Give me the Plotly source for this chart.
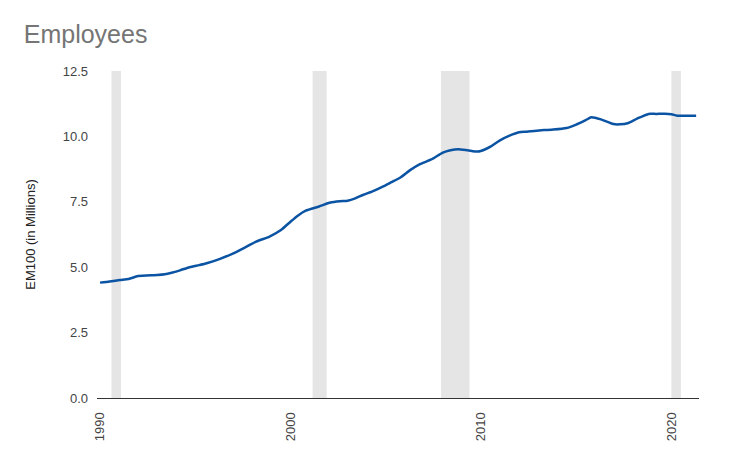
import plotly.graph_objects as go

# employee counts (millions)
years = [1990.0, 1990.5, 1991.05, 1991.5, 1992.0, 1993.0, 1993.4, 1993.76, 1994.2, 1994.7,
         1995.2, 1995.6, 1996.3, 1997.0, 1997.6, 1998.2, 1998.9, 1999.5, 2000.0, 2000.4,
         2000.8, 2001.5, 2002.1, 2002.6, 2003.0, 2003.4, 2003.8, 2004.4, 2004.9, 2005.3,
         2005.75, 2006.3, 2006.8, 2007.4, 2008.0, 2008.4, 2008.8, 2009.3, 2009.85, 2010.2,
         2010.5, 2011.0, 2011.5, 2012.0, 2012.4, 2012.8, 2013.3, 2013.8, 2014.5, 2015.0,
         2015.5, 2015.8, 2016.3, 2016.95, 2017.3, 2017.7, 2018.2, 2018.8, 2019.2, 2019.65,
         2020.0, 2020.3, 2020.8, 2021.3]
employees = [4.41, 4.45, 4.51, 4.55, 4.66, 4.70, 4.73, 4.79, 4.88, 5.00,
             5.08, 5.15, 5.32, 5.53, 5.75, 5.98, 6.17, 6.42, 6.74, 6.98,
             7.16, 7.32, 7.47, 7.52, 7.54, 7.63, 7.76, 7.93, 8.10, 8.25,
             8.42, 8.72, 8.94, 9.12, 9.38, 9.47, 9.51, 9.47, 9.42, 9.50,
             9.61, 9.85, 10.03, 10.16, 10.18, 10.21, 10.24, 10.26, 10.32, 10.45,
             10.62, 10.73, 10.65, 10.47, 10.46, 10.50, 10.68, 10.86, 10.86, 10.87,
             10.85, 10.79, 10.79, 10.79]

# recession periods (start, end)
recession_start = [1990.6, 2001.16, 2007.9, 2020.0]
recession_end = [1991.1, 2001.9, 2009.4, 2020.5]

x_ticks = [1990, 2000, 2010, 2020]
y_ticks = [0, 2.5, 5, 7.5, 10, 12.5]

fig = go.Figure()

for x0, x1 in zip(recession_start, recession_end):
    fig.add_shape(type="rect", xref="x", yref="y", x0=x0, x1=x1, y0=0, y1=12.5,
                  fillcolor="#e5e5e5", line_width=0, layer="below")

fig.add_trace(go.Scatter(
    x=years, y=employees, mode="lines",
    line=dict(color="#0b53a3", width=2.5, shape="spline", smoothing=0.6),
    hoverinfo="x+y", showlegend=False
))

fig.update_layout(
    width=750, height=463,
    margin=dict(l=89, r=59, t=63, b=73),
    paper_bgcolor="white", plot_bgcolor="white",
    font=dict(family="Arial, Liberation Sans, sans-serif", color="#444444", size=13),
    title=dict(text="Employees", x=0.021, xanchor="left", y=0.943, yanchor="middle",
               font=dict(size=25, color="#757575")),
    xaxis=dict(range=[1989.84, 2021.45], tickvals=x_ticks, ticktext=[str(t) for t in x_ticks],
               tickangle=-90, showgrid=False, zeroline=False, showline=True,
               linecolor="#333333", linewidth=1.2, ticks="", ticklabelstandoff=8),
    yaxis=dict(range=[0, 12.5], tickvals=y_ticks, ticktext=[f"{t:.1f}" for t in y_ticks],
               showgrid=False, zeroline=False, showline=False, ticklabelstandoff=8,
               title=dict(text="EM100 (in Millions)", font=dict(size=13, color="#222222"),
                          standoff=24)),
)

fig.write_html("out.html")
